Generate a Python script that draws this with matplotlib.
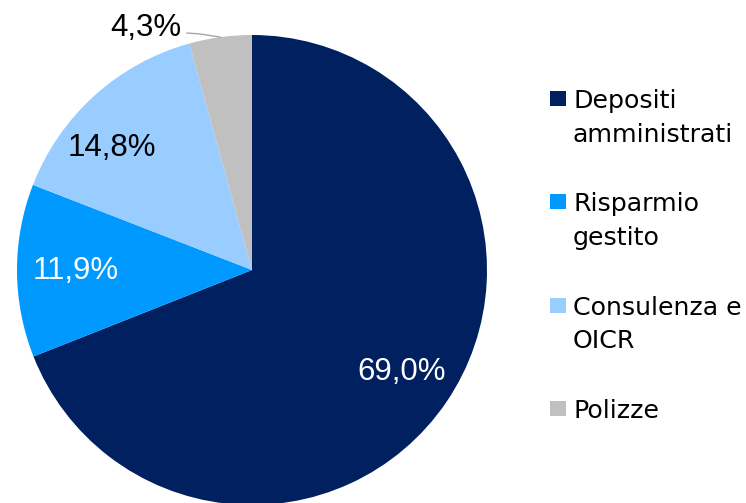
import numpy as np
import matplotlib.pyplot as plt
from matplotlib.patches import Rectangle

categories = ['Depositi\namministrati', 'Risparmio\ngestito', 'Consulenza e\nOICR', 'Polizze']
shares = [69.0, 11.9, 14.8, 4.3]
share_labels = ['69,0%', '11,9%', '14,8%', '4,3%']
colors = ['#002060', '#0099FF', '#99CCFF', '#C0C0C0']

W, H = 746, 503
fig = plt.figure(figsize=(W / 100, H / 100), dpi=100)
ax = fig.add_axes([0, 0, 1, 1])

# centre at (252, 270) px, radius 235 px
scale = 235.0
wedges, _ = ax.pie(shares, colors=colors, startangle=90, counterclock=False,
                   radius=1.0, center=(0, 0), frame=True,
                   wedgeprops=dict(linewidth=0))
ax.set_xlim(-252 / scale, (W - 252) / scale)
ax.set_ylim(-(H - 270) / scale, 270 / scale)
ax.set_aspect('auto')
ax.axis('off')

# label placement (radius, angle offset in degrees)
place = [(0.77, 0), (0.75, 0), (0.79, 7)]
for w, lab, (r, off), c in zip(wedges[:3], share_labels[:3], place, colors):
    mid = np.deg2rad((w.theta1 + w.theta2) / 2 + off)
    ax.text(r * np.cos(mid), r * np.sin(mid), lab, ha='center', va='center',
            fontsize=22.5, family='Liberation Sans',
            color='white' if c != '#99CCFF' else 'black')

# small slice: outside label with leader line
w = wedges[3]
mid = np.deg2rad((w.theta1 + w.theta2) / 2)
ex, ey = np.cos(mid), np.sin(mid)
ax.plot([(187 - 252) / scale, (200 - 252) / scale, ex],
        [(270 - 33) / scale, (270 - 34) / scale, ey],
        color='#A6A6A6', lw=1)
ax.text((146 - 252) / scale, (270 - 28) / scale, share_labels[3], ha='center', va='center',
        fontsize=22.5, family='Liberation Sans', color='black')

# legend drawn by hand: square + two-line label per entry
for i, (name, c) in enumerate(zip(categories, colors)):
    base = 108 + i * 103.3
    fig.patches.append(Rectangle((550 / W, 1 - (base - 2) / H), 16 / W, 15 / H,
                                 transform=fig.transFigure, facecolor=c,
                                 edgecolor='none'))
    for j, line in enumerate(name.split('\n')):
        fig.text(573 / W, 1 - (base + j * 33.7) / H, line, ha='left', va='baseline',
                 fontsize=18.2, family='DejaVu Sans', color='black')

fig.savefig('out.png', dpi=100)
